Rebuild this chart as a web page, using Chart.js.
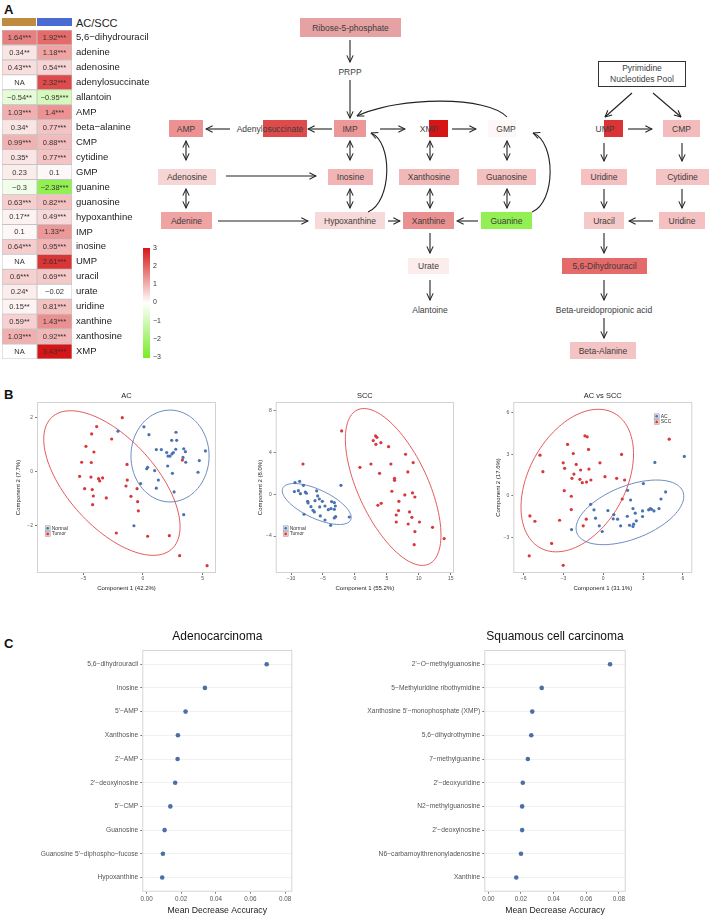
<!DOCTYPE html>
<html>
<head>
<meta charset="utf-8">
<title>Nucleotide metabolism</title>
<script src="https://cdn.jsdelivr.net/npm/chart.js@4.4.1/dist/chart.umd.min.js"></script>
<style>
  body { margin: 0; background: #fff; }
  #page { position: relative; width: 709px; height: 916px; overflow: hidden; font-family: "Liberation Sans", Arial, sans-serif; color: #333; }
  #page canvas { position: absolute; }
  .lbl { position: absolute; white-space: nowrap; }
  .panel { position: absolute; font-weight: bold; font-size: 13px; line-height: 13px; color: #111; }
  .node { position: absolute; font-size: 8.5px; color: #3c3c3c; display: flex; align-items: center; justify-content: center; white-space: nowrap; }
  .pool { position: absolute; font-size: 8.5px; color: #3c3c3c; text-align: center; line-height: 11px; border: 1px solid #333; background: #fff; box-sizing: border-box; padding-top: 1px; }
  #arrows { position: absolute; left: 0; top: 0; }
</style>
</head>
<body>
<div id="page">
  <div class="panel" style="left:4px;top:3px">A</div>
  <div class="panel" style="left:4px;top:388px">B</div>
  <div class="panel" style="left:4px;top:637px">C</div>

  <div class="lbl" style="left:2px;top:18px;width:34px;height:8px;background:#c08b3e"></div>
  <div class="lbl" style="left:37px;top:18px;width:35px;height:8px;background:#4a6cd2"></div>
  <div class="lbl" style="left:76px;top:17px;font-size:11px;color:#222">AC/SCC</div>

  <canvas id="heat" width="152" height="353" style="left:0;top:18px"></canvas>
  <div id="cbar" class="lbl" style="left:143px;top:248px;width:7px;height:110px"></div>
  <div id="cbarTicks"></div>

  <div id="path"></div>
  <svg id="arrows" width="709" height="420"></svg>

  <canvas id="pcaAC" width="230" height="204" style="left:0;top:391px"></canvas>
  <canvas id="pcaSCC" width="228" height="204" style="left:240px;top:391px"></canvas>
  <canvas id="pcaBoth" width="231" height="204" style="left:478px;top:391px"></canvas>

  <canvas id="rfAC" width="300" height="291" style="left:0;top:625px"></canvas>
  <canvas id="rfSCC" width="335" height="291" style="left:300px;top:625px"></canvas>
</div>

<script>
// ---- heatmap values (log2 fold change, tumor vs normal) ----
const metabolites = ['5,6−dihydrouracil', 'adenine', 'adenosine', 'adenylosuccinate', 'allantoin', 'AMP',
  'beta−alanine', 'CMP', 'cytidine', 'GMP', 'guanine', 'guanosine', 'hypoxanthine', 'IMP', 'inosine',
  'UMP', 'uracil', 'urate', 'uridine', 'xanthine', 'xanthosine', 'XMP'];
const acFold = [1.64, 0.34, 0.43, null, -0.54, 1.03, 0.34, 0.99, 0.35, 0.23, -0.3, 0.63, 0.17, 0.1, 0.64,
  null, 0.6, 0.24, 0.15, 0.59, 1.03, null];
const acStars = ['***', '**', '***', '', '**', '***', '*', '***', '*', '', '', '***', '**', '', '***',
  '', '***', '*', '**', '**', '***', ''];
const sccFold = [1.92, 1.18, 0.54, 2.32, -0.95, 1.4, 0.77, 0.88, 0.77, 0.1, -2.38, 0.82, 0.49, 1.33, 0.95,
  2.61, 0.69, -0.02, 0.81, 1.43, 0.92, 3.43];
const sccStars = ['***', '***', '***', '***', '***', '***', '***', '***', '***', '', '***', '***', '***', '**', '***',
  '***', '***', '', '***', '***', '***', '***'];
const colorTicks = [3, 2, 1, 0, -1, -2, -3];

// ---- PCA scores ----
const acNormal = [[-2.10,1.51],[0.08,1.67],[0.50,1.38],[2.77,1.47],[2.41,1.17],[2.83,1.17],[1.12,0.83],[1.54,0.83],
  [1.99,0.72],[2.10,0.59],[2.27,0.59],[2.44,0.67],[2.55,0.72],[2.75,0.84],[3.42,0.86],[3.56,0.75],[3.36,0.54],
  [3.59,0.36],[4.73,0.42],[5.24,0.78],[4.62,-0.01],[2.47,-0.05],[2.07,0.22],[1.29,-0.30],[0.98,0.05],[0.31,0.12],
  [0.39,0.17],[1.12,-0.60],[2.61,-0.74],[3.42,-1.58],[-0.76,-1.99],[-0.20,-0.43]];
const acTumor = [[-1.74,2.01],[-3.89,1.68],[-4.31,1.41],[-2.63,1.22],[-4.79,0.95],[-4.12,0.74],[-5.15,0.36],
  [-4.34,0.35],[-1.34,0.28],[-5.32,-0.16],[-4.37,-0.19],[-3.73,-0.25],[-3.64,-0.33],[-3.39,-0.22],[-1.32,-0.30],
  [-4.90,-0.62],[-4.26,-0.65],[-1.43,-0.52],[-0.50,-0.62],[-4.17,-0.89],[-3.08,-0.96],[-1.01,-0.90],[-4.23,-1.21],
  [-0.45,-1.10],[-0.39,-1.44],[-2.24,-2.26],[0.39,-2.38],[2.21,-2.36],[3.08,-3.10],[5.38,-3.47],[3.31,0.44]];
const sccNormal = [[-9.38,1.12],[-8.65,1.24],[-8.07,0.86],[-9.48,0.26],[-8.85,0.35],[-8.54,0.06],[-7.76,0.22],
  [-7.60,0.10],[-5.99,0.32],[-5.83,-0.16],[-5.57,-0.45],[-5.10,-0.67],[-6.25,-0.61],[-7.40,-0.67],[-7.34,-0.83],
  [-6.88,-1.18],[-6.56,-1.53],[-6.35,-1.69],[-5.52,-1.21],[-4.69,-1.12],[-4.17,-1.47],[-3.65,-0.70],[-3.23,-0.80],
  [-3.75,-1.37],[-3.23,-1.44],[-3.02,-2.14],[-3.23,-2.26],[-5.42,-2.07],[-4.69,-2.46],[-7.97,-1.91],[-3.80,-2.97],
  [-2.19,0.86],[-0.89,-2.17],[-3.07,-1.12]];
const sccTumor = [[-2.08,6.06],[-8.13,2.90],[0.78,2.58],[2.50,2.90],[2.86,5.14],[3.23,5.58],[3.44,5.45],[3.28,4.78],
  [4.06,4.94],[5.26,4.56],[3.85,2.01],[5.63,2.90],[7.92,3.83],[9.11,3.03],[8.28,2.14],[6.20,1.53],[6.20,1.34],
  [5.78,0.29],[7.81,-0.06],[9.01,0.13],[9.38,-0.26],[4.11,-0.86],[3.59,-1.05],[6.88,-0.67],[6.82,-1.56],[6.46,-1.98],
  [8.54,-1.69],[8.91,-2.20],[6.46,-2.65],[8.33,-2.84],[10.10,-2.65],[9.38,-3.57],[12.14,-3.16],[9.27,-4.82],[13.96,-4.24]];
const bothAC = [[3.89,2.42],[6.11,2.85],[3.02,0.89],[1.83,0.41],[-0.95,-0.60],[-0.70,-1.00],[0.35,-1.05],[-0.58,-1.60],
  [-0.30,-2.15],[-0.08,-2.56],[-2.39,-2.42],[0.80,-1.34],[0.75,-1.65],[1.08,-1.67],[1.31,-2.15],[1.81,-1.46],
  [1.98,-2.11],[2.06,-0.29],[2.24,-0.91],[2.41,-1.24],[2.49,-1.79],[2.29,-2.03],[2.24,-2.20],[2.96,-1.08],
  [2.96,-1.48],[3.42,-1.00],[3.54,-0.91],[3.64,-0.96],[3.82,-1.08],[4.20,-0.91],[4.35,-0.22],[4.70,0.29]];
const bothSCC = [[-1.38,4.33],[-1.21,4.26],[-2.69,3.71],[-1.11,3.35],[-4.77,2.94],[-2.26,3.06],[1.38,2.99],[4.97,4.09],
  [-3.02,2.39],[-2.04,2.27],[-0.25,2.39],[-4.55,1.75],[-2.91,1.99],[-2.21,1.58],[-1.71,1.87],[-1.08,1.94],
  [-2.36,1.27],[-1.76,1.20],[-1.58,0.96],[-1.26,1.00],[-0.93,1.15],[0.13,1.39],[1.01,1.27],[1.61,1.15],
  [-2.94,0.38],[-2.41,-0.02],[1.43,-0.22],[-2.41,-0.98],[-5.53,-1.44],[-5.15,-1.82],[-3.29,-1.75],[-1.28,-1.67],
  [-1.51,-2.15],[-3.89,-3.42],[-5.58,-4.31],[-3.02,-5.00]];

// confidence ellipses: centre and two conjugate semi-axes, in data units
const acEllipses = [
  { c: [-2.61, -0.41], a: [5.03, -2.44], b: [-2.73, -1.10], color: '#e0484b' },
  { c: [2.27, 0.59], a: [3.28, 0], b: [0, 1.70], color: '#5a7fb9' }];
const sccEllipses = [
  { c: [5.98, 0.70], a: [5.61, -7.37], b: [-4.95, -1.42], color: '#e0484b' },
  { c: [-5.98, -0.93], a: [5.31, -1.52], b: [-0.94, -1.24], color: '#5a7fb9' }];
const bothEllipses = [
  { c: [-1.96, 1.11], a: [2.77, 4.86], b: [3.21, -1.66], color: '#e0484b' },
  { c: [2.01, -1.18], a: [3.99, 1.50], b: [0.74, -1.78], color: '#5a7fb9' }];

// ---- random forest importance ----
const rfAcNames = ['5,6−dihydrouracil', 'Inosine', "5'−AMP", 'Xanthosine', "2'−AMP", "2'−deoxyinosine",
  "5'−CMP", 'Guanosine', "Guanosine 5'−diphospho−fucose", 'Hypoxanthine'];
const rfAcValues = [0.0694, 0.0337, 0.0225, 0.0181, 0.0179, 0.0165, 0.0137, 0.0104, 0.0094, 0.0090];
const rfSccNames = ["2'−O−methylguanosine", '5−Methyluridine ribothymidine', "Xanthosine 5'−monophosphate (XMP)",
  '5,6−dihydrothymine', '7−methylguanine', "2'−deoxyuridine", 'N2−methylguanosine', "2'−deoxyinosine",
  'N6−carbamoylthrenonyladenosine', 'Xanthine'];
const rfSccValues = [0.0746, 0.0327, 0.0269, 0.0263, 0.0242, 0.0211, 0.0207, 0.0207, 0.0200, 0.0171];
const rfTicks = [0, 0.02, 0.04, 0.06, 0.08];

Chart.defaults.font.family = '"Liberation Sans", Arial, sans-serif';

function heatColor(v) {
  if (v === null) return '#ffffff';
  const t = Math.max(-1, Math.min(1, v / 3));
  const end = t >= 0 ? [214, 22, 22] : [118, 236, 38];
  const k = Math.abs(t);
  return 'rgb(' + end.map(e => Math.round(255 + (e - 255) * k)).join(',') + ')';
}
const minus = v => (v < 0 ? '−' + Math.abs(v) : String(v));
const cellText = (vals, stars) => vals.map((v, i) => (v === null ? 'NA' : minus(v) + stars[i]));

// ---- plugins ----
const framePlugin = {
  id: 'frame',
  afterDraw(chart, args, opts) {
    const { left, top, right, bottom } = chart.chartArea;
    const c = chart.ctx;
    c.save();
    c.strokeStyle = opts.color || '#ccc';
    c.lineWidth = 1;
    c.strokeRect(left + 0.5, top + 0.5, right - left - 1, bottom - top - 1);
    c.restore();
  }
};

const ellipsePlugin = {
  id: 'ellipses',
  beforeDatasetsDraw(chart, args, opts) {
    const xs = chart.scales.x, ys = chart.scales.y, c = chart.ctx;
    (opts.items || []).forEach(e => {
      c.save();
      c.beginPath();
      for (let i = 0; i <= 120; i++) {
        const t = i / 120 * Math.PI * 2;
        const px = xs.getPixelForValue(e.c[0] + Math.cos(t) * e.a[0] + Math.sin(t) * e.b[0]);
        const py = ys.getPixelForValue(e.c[1] + Math.cos(t) * e.a[1] + Math.sin(t) * e.b[1]);
        if (i) c.lineTo(px, py); else c.moveTo(px, py);
      }
      c.strokeStyle = e.color;
      c.lineWidth = 0.9;
      c.stroke();
      c.restore();
    });
  }
};

const boxLegend = {
  id: 'boxLegend',
  afterDraw(chart, args, opts) {
    const { left, top } = chart.chartArea;
    const c = chart.ctx;
    let y = top + opts.dy;
    c.save();
    chart.data.datasets.forEach(ds => {
      const x = left + opts.dx;
      c.fillStyle = ds.keyFill;
      c.fillRect(x - 2.5, y - 2.5, 5, 5);
      c.strokeStyle = '#9a9a9a';
      c.lineWidth = 0.5;
      c.strokeRect(x - 2.5, y - 2.5, 5, 5);
      c.fillStyle = ds.backgroundColor;
      c.beginPath();
      c.arc(x, y, 1.3, 0, Math.PI * 2);
      c.fill();
      c.fillStyle = '#333';
      c.font = '5px "Liberation Sans", Arial, sans-serif';
      c.textBaseline = 'middle';
      c.fillText(ds.label, x + 4, y);
      y += 5.6;
    });
    c.restore();
  }
};

const cellLabels = {
  id: 'cellLabels',
  afterDatasetsDraw(chart) {
    const c = chart.ctx;
    c.save();
    c.font = '7.5px "Liberation Sans", Arial, sans-serif';
    c.fillStyle = '#333';
    c.textAlign = 'center';
    c.textBaseline = 'middle';
    chart.data.datasets.forEach((ds, di) => {
      chart.getDatasetMeta(di).data.forEach((bar, i) => {
        c.fillText(ds.cellText[i], (bar.x + bar.base) / 2, bar.y + 0.5);
      });
    });
    c.restore();
  }
};

// ---- heatmap ----
new Chart(document.getElementById('heat'), {
  type: 'bar',
  data: {
    labels: metabolites,
    datasets: [
      { label: 'AC', data: acFold.map(() => [0, 1]), backgroundColor: acFold.map(heatColor),
        cellText: cellText(acFold, acStars) },
      { label: 'SCC', data: sccFold.map(() => [1, 2]), backgroundColor: sccFold.map(heatColor),
        cellText: cellText(sccFold, sccStars) }
    ].map(d => Object.assign(d, { borderColor: '#c4c4c4', borderWidth: 0.8, borderSkipped: false,
      grouped: false, barPercentage: 1, categoryPercentage: 1 }))
  },
  options: {
    indexAxis: 'y', responsive: false, animation: false, devicePixelRatio: 1,
    layout: { padding: { left: 2, top: 12, bottom: 12, right: 0 } },
    plugins: { legend: { display: false }, tooltip: { enabled: false } },
    scales: {
      x: { display: false, min: 0, max: 2 },
      y: {
        position: 'right',
        afterFit: s => { s.width = 80; },
        grid: { display: false, drawTicks: false },
        border: { display: false },
        ticks: { padding: 4, color: '#222', font: { size: 9.5 }, autoSkip: false }
      }
    }
  },
  plugins: [cellLabels]
});

// colour key
document.getElementById('cbar').style.background =
  'linear-gradient(to bottom, ' + heatColor(3) + ', #ffffff 50%, ' + heatColor(-3) + ')';
document.getElementById('cbarTicks').innerHTML = colorTicks.map((v, i) =>
  '<div class="lbl" style="left:153px;top:' + (248 + i * 18.33 - 4.5) + 'px;font-size:7px;color:#333">' + minus(v) + '</div>'
).join('');

// ---- pathway diagram ----
function foldOf(name, src) {
  const i = metabolites.indexOf(name);
  return src === 'ac' ? acFold[i] : sccFold[i];
}
// [text, metabolite or fixed colour, left, top, right, bottom, text centre x (if box is partial)]
const pathBoxes = [
  ['Ribose-5-phosphate', '#e6a2a2', 300, 18, 401, 37],
  ['AMP', 'AMP', 169, 120, 203, 137],
  ['Adenylosuccinate', 'adenylosuccinate', 263, 120, 307, 137, 270],
  ['IMP', 'IMP', 334, 120, 366, 137],
  ['XMP', 'XMP', 429, 120, 448, 137, 429],
  ['GMP', 'GMP', 488, 120, 516, 137, 506],
  ['Adenosine', 'adenosine', 158, 169, 216, 185],
  ['Inosine', 'inosine', 328, 169, 373, 185],
  ['Xanthosine', 'xanthosine', 399, 169, 459, 185],
  ['Guanosine', 'guanosine', 477, 169, 536, 185],
  ['Adenine', 'adenine', 161, 212, 212, 229],
  ['Hypoxanthine', 'hypoxanthine', 315, 212, 385, 229],
  ['Xanthine', 'xanthine', 403, 212, 454, 229],
  ['Guanine', 'guanine', 481, 212, 532, 229],
  ['Urate', 'urate:ac', 408, 258, 449, 274],
  ['UMP', 'UMP', 604, 120, 623, 137, 605],
  ['CMP', 'CMP', 663, 120, 700, 137],
  ['Uridine', 'uridine', 581, 169, 627, 185],
  ['Cytidine', 'cytidine', 656, 169, 709, 185],
  ['Uracil', 'uracil', 584, 212, 624, 229],
  ['Uridine', 'uridine', 659, 212, 705, 229],
  ['5,6-Dihydrouracil', '5,6−dihydrouracil', 562, 258, 647, 274],
  ['Beta-Alanine', 'beta−alanine', 570, 342, 636, 359]
];
const pathTexts = [['PRPP', 350, 72], ['Alantoine', 430, 310], ['Beta-ureidopropionic acid', 604, 310]];

let html = '';
pathBoxes.forEach(b => {
  let bg = b[1];
  if (!bg.startsWith('#')) {
    const [name, src] = bg.split(':');
    bg = heatColor(foldOf(name, src));
  }
  const box = 'left:' + b[2] + 'px;top:' + b[3] + 'px;width:' + (b[4] - b[2]) + 'px;height:' + (b[5] - b[3]) + 'px;';
  if (b.length > 6) {
    html += '<div class="node" style="' + box + 'background:' + bg + '"></div>';
    html += '<div class="node" style="left:' + (b[6] - 50) + 'px;top:' + b[3] + 'px;width:100px;height:' + (b[5] - b[3]) + 'px">' + b[0] + '</div>';
  } else {
    html += '<div class="node" style="' + box + 'background:' + bg + '">' + b[0] + '</div>';
  }
});
pathTexts.forEach(t => {
  html += '<div class="node" style="left:' + (t[1] - 70) + 'px;top:' + (t[2] - 6) + 'px;width:140px;height:12px">' + t[0] + '</div>';
});
html += '<div class="pool" style="left:598px;top:61px;width:88px;height:26px">Pyrimidine<br>Nucleotides Pool</div>';
document.getElementById('path').innerHTML = html;

const straight = [
  [350, 40, 350, 62], [350, 80, 350, 118], [332, 129, 308, 129], [230, 129, 206, 129], [380, 129, 405, 129],
  [452, 129, 476, 129], [226, 176, 316, 176], [218, 221, 308, 221], [388, 221, 400, 221], [478, 221, 457, 221],
  [430, 233, 430, 253], [430, 280, 430, 300],
  [632, 93, 605, 117], [653, 93, 681, 117], [628, 129, 652, 129], [604, 143, 604, 161], [682, 143, 682, 161],
  [604, 189, 604, 208], [682, 189, 682, 208], [653, 221, 629, 221], [604, 233, 604, 253], [604, 280, 604, 300],
  [604, 318, 604, 338]
];
const doubled = [
  [186, 141, 186, 160], [350, 141, 350, 160], [430, 141, 430, 160], [507, 141, 507, 160],
  [186, 189, 186, 208], [350, 189, 350, 208], [430, 189, 430, 208], [507, 189, 507, 208]
];
const curves = [
  'M368,212 C392,202 393,142 371,133',
  'M507,117 C488,96 400,96 357,116',
  'M532,212 C556,202 556,142 533,133'
];
let svg = '<defs><marker id="hd" viewBox="0 0 10 10" refX="9.3" refY="5" markerWidth="8" markerHeight="8" ' +
  'markerUnits="userSpaceOnUse" orient="auto-start-reverse"><path d="M1,1 L9.3,5 L1,9" fill="none" ' +
  'stroke="#222" stroke-width="1.3"/></marker></defs><g stroke="#222" stroke-width="1.1" fill="none">';
straight.forEach(a => { svg += '<line x1="' + a[0] + '" y1="' + a[1] + '" x2="' + a[2] + '" y2="' + a[3] + '" marker-end="url(#hd)"/>'; });
doubled.forEach(a => { svg += '<line x1="' + a[0] + '" y1="' + a[1] + '" x2="' + a[2] + '" y2="' + a[3] + '" marker-start="url(#hd)" marker-end="url(#hd)"/>'; });
curves.forEach(d => { svg += '<path d="' + d + '" marker-end="url(#hd)"/>'; });
svg += '</g>';
document.getElementById('arrows').innerHTML = svg;

// ---- PCA scatter plots ----
const RED = '#d9383b', BLUE = '#4a72b0';
function pcaChart(id, cfg) {
  new Chart(document.getElementById(id), {
    type: 'scatter',
    data: {
      datasets: cfg.series.map(s => ({
        label: s.label, data: s.pts.map(p => ({ x: p[0], y: p[1] })),
        backgroundColor: s.color, keyFill: s.key, borderWidth: 0, pointRadius: 1.6
      }))
    },
    options: {
      responsive: false, animation: false, devicePixelRatio: 1,
      layout: { padding: { right: cfg.padRight, top: 0, left: 0, bottom: 0 } },
      plugins: {
        legend: { display: false }, tooltip: { enabled: false },
        title: { display: true, text: cfg.title, fullSize: false, color: '#222',
          font: { size: 7.5, weight: 'normal' }, padding: { top: 0, bottom: 2 } },
        frame: { color: '#d2d2d2' },
        ellipses: { items: cfg.ellipses },
        boxLegend: cfg.legend
      },
      scales: {
        x: {
          min: cfg.xRange[0], max: cfg.xRange[1],
          afterBuildTicks: s => { s.ticks = cfg.xTicks.map(v => ({ value: v })); },
          afterFit: s => { s.height = 22; },
          grid: { display: true, drawOnChartArea: false, tickLength: 2, tickColor: '#777' },
          border: { display: false },
          ticks: { font: { size: 5 }, color: '#555', padding: 1, maxRotation: 0, callback: minus },
          title: { display: true, text: cfg.xTitle, color: '#222', font: { size: 6 }, padding: { top: 0, bottom: 3.4 } }
        },
        y: {
          min: cfg.yRange[0], max: cfg.yRange[1],
          afterBuildTicks: s => { s.ticks = cfg.yTicks.map(v => ({ value: v })); },
          afterFit: s => { s.width = cfg.yWidth; },
          grid: { display: true, drawOnChartArea: false, tickLength: 2, tickColor: '#777' },
          border: { display: false },
          ticks: { font: { size: 5 }, color: '#555', padding: 2, callback: minus },
          title: { display: true, text: cfg.yTitle, color: '#222', font: { size: 6 }, padding: { top: cfg.yTitlePad, bottom: 0 } }
        }
      }
    },
    plugins: [framePlugin, ellipsePlugin, boxLegend]
  });
}

pcaChart('pcaAC', {
  title: 'AC', xTitle: 'Component 1 (42.2%)', yTitle: 'Component 2 (7.7%)',
  series: [{ label: 'Normal', pts: acNormal, color: BLUE, key: '#cfdcef' },
           { label: 'Tumor', pts: acTumor, color: RED, key: '#f3c9ca' }],
  ellipses: acEllipses, xRange: [-8.9, 6.13], yRange: [-3.74, 2.59], xTicks: [-5, 0, 5], yTicks: [-2, 0, 2],
  yWidth: 37, yTitlePad: 14.7, padRight: 14, legend: { dx: 10.7, dy: 126.3 }
});
pcaChart('pcaSCC', {
  title: 'SCC', xTitle: 'Component 1 (55.2%)', yTitle: 'Component 2 (8.0%)',
  series: [{ label: 'Normal', pts: sccNormal, color: BLUE, key: '#cfdcef' },
           { label: 'Tumor', pts: sccTumor, color: RED, key: '#f3c9ca' }],
  ellipses: sccEllipses, xRange: [-12.4, 15.5], yRange: [-7.53, 8.83], xTicks: [-10, -5, 0, 5, 10, 15], yTicks: [-4, 0, 4, 8],
  yWidth: 35.7, yTitlePad: 16.4, padRight: 14, legend: { dx: 10, dy: 126.3 }
});
pcaChart('pcaBoth', {
  title: 'AC vs SCC', xTitle: 'Component 1 (31.1%)', yTitle: 'Component 2 (17.6%)',
  series: [{ label: 'AC', pts: bothAC, color: BLUE, key: '#cfdcef' },
           { label: 'SCC', pts: bothSCC, color: RED, key: '#f3c9ca' }],
  ellipses: bothEllipses, xRange: [-6.78, 6.71], yRange: [-5.55, 6.77], xTicks: [-6, -3, 0, 3, 6], yTicks: [-3, 0, 3, 6],
  yWidth: 35.3, yTitlePad: 16.7, padRight: 16.7, legend: { dx: 143.4, dy: 14.3 }
});

// ---- importance dot plots ----
function rfChart(id, title, names, values, yWidth, padRight) {
  new Chart(document.getElementById(id), {
    type: 'scatter',
    data: {
      datasets: [{ data: values.map((v, i) => ({ x: v, y: i + 1 })), backgroundColor: '#4d6ea7',
        borderWidth: 0, pointRadius: 2.3 }]
    },
    options: {
      responsive: false, animation: false, devicePixelRatio: 1,
      layout: { padding: { right: padRight, top: 0, left: 0, bottom: 0 } },
      plugins: {
        legend: { display: false }, tooltip: { enabled: false },
        title: { display: true, text: title, fullSize: false, color: '#111',
          font: { size: 12, weight: 'normal' }, padding: { top: 4.5, bottom: 6.1 } },
        frame: { color: '#d6d6d6' }
      },
      scales: {
        x: {
          min: -0.0025, max: 0.0842,
          afterBuildTicks: s => { s.ticks = rfTicks.map(v => ({ value: v })); },
          afterFit: s => { s.height = 24.3; },
          grid: { display: true, drawOnChartArea: false, tickLength: 2, tickColor: '#777' },
          border: { display: false },
          ticks: { font: { size: 6.3 }, color: '#555', padding: 1.8, maxRotation: 0, callback: v => v.toFixed(2) },
          title: { display: true, text: 'Mean Decrease Accuracy', color: '#222', font: { size: 8.7 }, padding: { top: 0, bottom: 0.1 } }
        },
        y: {
          reverse: true, min: 0.4, max: names.length + 0.6,
          afterBuildTicks: s => { s.ticks = names.map((n, i) => ({ value: i + 1 })); },
          afterFit: s => { s.width = yWidth; },
          grid: { display: true, color: '#f1f1f1', tickLength: 2, tickColor: '#777' },
          border: { display: false },
          ticks: { font: { size: 6.7 }, color: '#555', padding: 2, autoSkip: false, callback: v => names[v - 1] }
        }
      }
    },
    plugins: [framePlugin]
  });
}
rfChart('rfAC', 'Adenocarcinoma', rfAcNames, rfAcValues, 142.3, 7.7);
rfChart('rfSCC', 'Squamous cell carcinoma', rfSccNames, rfSccValues, 184.3, 9.3);
</script>
</body>
</html>
